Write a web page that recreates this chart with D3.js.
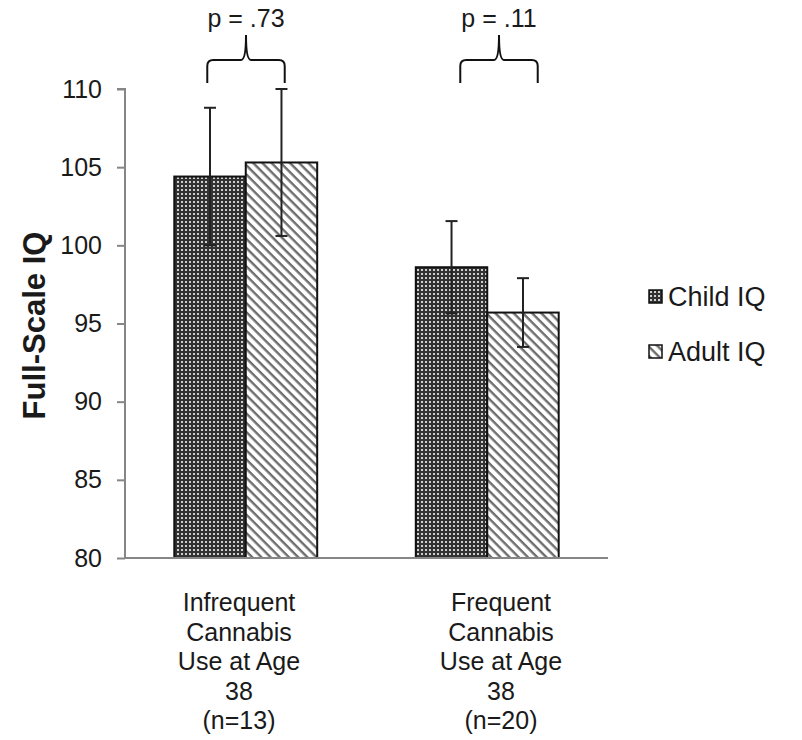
<!DOCTYPE html>
<html>
<head>
<meta charset="utf-8">
<script src="https://cdn.jsdelivr.net/npm/d3@7"></script>
<style>
  body { margin: 0; background: #fff; }
  svg text { font-family: "Liberation Sans", Arial, sans-serif; fill: #1a1a1a; }
</style>
</head>
<body>
<div id="chart"></div>
<script>
// data
const groups = ["Infrequent", "Frequent"];
const groupLabels = [
  ["Infrequent", "Cannabis", "Use at Age", "38", "(n=13)"],
  ["Frequent", "Cannabis", "Use at Age", "38", "(n=20)"]
];
const series = ["Child IQ", "Adult IQ"];
const childIQ = [104.4, 98.6];
const adultIQ = [105.3, 95.7];
const childErr = [4.4, 2.95];
const adultErr = [4.7, 2.2];
const pValues = ["p = .73", "p = .11"];
const yTicks = [80, 85, 90, 95, 100, 105, 110];

const W = 802, H = 740;
const axisGrey = "#868686";

const svg = d3.select("#chart").append("svg")
  .attr("width", W).attr("height", H);

// patterns
const defs = svg.append("defs");
const checker = defs.append("pattern")
  .attr("id", "checker").attr("patternUnits", "userSpaceOnUse")
  .attr("width", 4).attr("height", 4);
checker.append("rect").attr("width", 4).attr("height", 4).attr("fill", "#333");
checker.append("rect").attr("x", 1).attr("y", 1).attr("width", 2).attr("height", 2).attr("fill", "#cfcfcf");

const stripes = defs.append("pattern")
  .attr("id", "stripes").attr("patternUnits", "userSpaceOnUse")
  .attr("width", 6.5).attr("height", 6.5)
  .attr("patternTransform", "rotate(45)");
stripes.append("rect").attr("width", 6.5).attr("height", 6.5).attr("fill", "#fff");
stripes.append("rect").attr("width", 6.5).attr("height", 2.4).attr("fill", "#6e6e6e");

const fills = { "Child IQ": "url(#checker)", "Adult IQ": "url(#stripes)" };

// scales
const y = d3.scaleLinear().domain([80, 110]).range([558, 89]);
const x0 = d3.scaleBand().domain(groups).range([125, 608]);
const x1 = d3.scaleBand().domain(series).range([0, x0.bandwidth()]).paddingOuter(0.69);
// category text and p-value brackets sit a bit apart from the bars in the original
const xLabel = d3.scaleBand().domain(groups).range([108, 632]);
const xNote = d3.scalePoint().domain(groups).range([246, 499]);

// y axis
const yAxis = svg.append("g")
  .attr("transform", "translate(125,0)")
  .call(d3.axisLeft(y).tickValues(yTicks).tickSize(8).tickPadding(15));
yAxis.selectAll("line, path").attr("stroke", axisGrey).attr("stroke-width", 2);
yAxis.select(".domain").attr("d", `M-8,${y(110)}H0V${y(80)}`);
yAxis.selectAll("text").style("font-size", "25px").attr("fill", "#1a1a1a");

svg.append("text")
  .attr("transform", `translate(45,${(y(110) + y(80)) / 2 + 2}) rotate(-90)`)
  .attr("text-anchor", "middle")
  .style("font-size", "31px").style("font-weight", "bold")
  .text("Full-Scale IQ");

// rows for bars
const rows = [];
groups.forEach((g, i) => {
  rows.push({ g: g, s: "Child IQ", v: childIQ[i], e: childErr[i] });
  rows.push({ g: g, s: "Adult IQ", v: adultIQ[i], e: adultErr[i] });
});

svg.selectAll(".bar")
  .data(rows)
  .enter()
  .append("rect")
  .attr("x", d => x0(d.g) + x1(d.s))
  .attr("y", d => y(d.v))
  .attr("width", x1.bandwidth())
  .attr("height", d => y(80) - y(d.v))
  .attr("fill", d => fills[d.s])
  .attr("stroke", "#111")
  .attr("stroke-width", 2);

// x axis line
svg.append("line")
  .attr("x1", 125).attr("x2", 608)
  .attr("y1", y(80)).attr("y2", y(80))
  .attr("stroke", axisGrey).attr("stroke-width", 2);

// error bars
const cx = d => x0(d.g) + x1(d.s) + x1.bandwidth() / 2;
const err = svg.selectAll(".err").data(rows).enter().append("g");
err.append("line")
  .attr("x1", cx).attr("x2", cx)
  .attr("y1", d => y(d.v + d.e)).attr("y2", d => y(d.v - d.e));
err.append("line")
  .attr("x1", d => cx(d) - 6).attr("x2", d => cx(d) + 6)
  .attr("y1", d => y(d.v + d.e)).attr("y2", d => y(d.v + d.e));
err.append("line")
  .attr("x1", d => cx(d) - 6).attr("x2", d => cx(d) + 6)
  .attr("y1", d => y(d.v - d.e)).attr("y2", d => y(d.v - d.e));
err.selectAll("line").attr("stroke", "#222").attr("stroke-width", 2);

// category labels
groups.forEach((g, i) => {
  const lx = xLabel(g) + xLabel.bandwidth() / 2;
  const t = svg.append("text")
    .attr("x", lx)
    .attr("y", 611)
    .attr("text-anchor", "middle")
    .style("font-size", "25px");
  groupLabels[i].forEach((line, j) => {
    t.append("tspan")
      .attr("x", lx)
      .attr("dy", j === 0 ? 0 : 29.5)
      .text(line);
  });
});

// brackets with p values
groups.forEach((g, i) => {
  const mid = xNote(g);
  const half = x1.bandwidth() / 2 + 3;
  const left = mid - half, right = mid + half;
  const yb = 83, yt = 60, yp = 35;
  const path = `M${left},${yb} L${left},${yt + 6} Q${left},${yt} ${left + 6},${yt}` +
    ` L${mid - 5},${yt} Q${mid},${yt} ${mid},${yp}` +
    ` Q${mid},${yt} ${mid + 5},${yt} L${right - 6},${yt} Q${right},${yt} ${right},${yt + 6} L${right},${yb}`;
  svg.append("path").attr("d", path)
    .attr("fill", "none").attr("stroke", "#111").attr("stroke-width", 2);
  svg.append("text")
    .attr("x", mid).attr("y", 27)
    .attr("text-anchor", "middle")
    .style("font-size", "25px")
    .text(pValues[i]);
});

// legend
const legend = svg.selectAll(".legend").data(series).enter().append("g")
  .attr("transform", (d, i) => `translate(649,${290 + i * 55})`);
legend.append("rect")
  .attr("width", 13).attr("height", 13)
  .attr("fill", d => fills[d])
  .attr("stroke", "#111").attr("stroke-width", 1.5);
legend.append("text")
  .attr("x", 19).attr("y", 16)
  .style("font-size", "27px")
  .text(d => d);
</script>
</body>
</html>
